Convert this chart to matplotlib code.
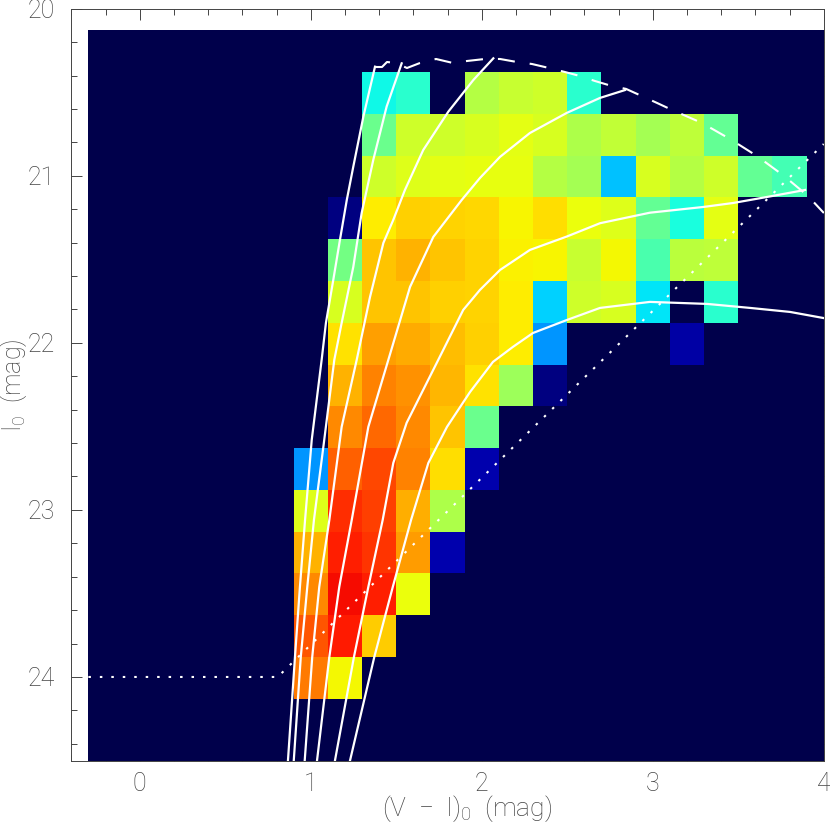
import matplotlib
matplotlib.use('Agg')
import matplotlib.pyplot as plt
from matplotlib.ticker import MultipleLocator
import numpy as np

plt.rcParams['font.family'] = ['Roboto', 'DejaVu Sans']
plt.rcParams['font.weight'] = 'light'
plt.rcParams['mathtext.default'] = 'regular'

# Hess diagram cells: (colour of first filled column, values), one per 0.25 mag row
# -1 = empty bin
CELL_ROWS = [
    (1.3, [.37, .40, -1, .57, .59, .60, .40]),
    (1.3, [.48, .60, .60, .61, .625, .61, .56, .585, .55, .58, .47]),
    (1.3, [.60, .62, .625, .63, .63, .57, .55, .316, .61, .57, .60, .47, .43]),
    (1.1, [0, .66, .69, .685, .68, .65, .675, .635, .62, .47, .38, .625]),
    (1.1, [.49, .70, .72, .70, .685, .655, .65, .59, .645, .44, .575, .58]),
    (1.1, [.61, .70, .70, .69, .685, .66, .33, .60, .61, .35, -1, .40]),
    (1.1, [.67, .74, .73, .71, .69, .66, .27, -1, -1, -1, .035]),
    (1.1, [.72, .77, .755, .715, .67, .54, 0]),
    (1.1, [.765, .80, .765, .70, .48]),
    (0.9, [.27, .805, .835, .77, .675, .04]),
    (0.9, [.62, .86, .84, .725, .56]),
    (0.9, [.72, .875, .855, .745, .04]),
    (0.9, [.765, .895, .875, .635]),
    (0.9, [.82, .88, .695]),
    (0.9, [.78, .645]),
]
FIRST_ROW_MAG = 20.38

# solid isochrones
TRACK_BASE = [24.5, 23.88, 23.461, 23.06]
track1_x = [.867, .908, .937, .967, 1.006, 1.064, 1.089, 1.132, 1.171, 1.211, 1.249, 1.308, 1.376]
track1_y = TRACK_BASE + [22.581, 22.102, 21.881, 21.624, 21.384, 21.145, 20.946, 20.646, 20.347]
track2_x = [.901, .942, .980, 1.019, 1.074, 1.138, 1.181, 1.249, 1.298, 1.366, 1.444, 1.532]
track2_y = TRACK_BASE + [22.623, 22.102, 21.881, 21.546, 21.223, 20.905, 20.586, 20.327]
track3_x = [.965, 1.009, 1.050, 1.109, 1.181, 1.269, 1.347, 1.425, 1.483, 1.551, 1.658, 1.805, 1.951, 2.068]
track3_y = TRACK_BASE + [22.503, 22.102, 21.725, 21.402, 21.264, 21.085, 20.846, 20.616, 20.427, 20.297]
track4_x = [1.037, 1.109, 1.167, 1.240, 1.337, 1.454, 1.581, 1.717, 1.883, 1.990, 2.107, 2.282, 2.497, 2.692, 2.838]
track4_y = TRACK_BASE + [22.503, 22.102, 21.665, 21.366, 21.145, 21.013, 20.887, 20.744, 20.624, 20.534, 20.487]
track5_x = [1.142, 1.253, 1.337, 1.421, 1.483, 1.561, 1.746, 1.892, 1.990, 2.107, 2.282, 2.497, 2.692, 2.984,
            3.294, 3.470, 3.668, 3.891]
track5_y = TRACK_BASE + [22.719, 22.479, 22.102, 21.803, 21.683, 21.564, 21.444, 21.364, 21.284, 21.221,
                         21.187, 21.163, 21.127, 21.085]
track6_x = [1.230, 1.372, 1.480, 1.587, 1.688, 1.797, 1.932, 2.066, 2.183, 2.300, 2.499, 2.692, 2.984, 3.318,
            3.569, 3.803, 3.996]
track6_y = TRACK_BASE + [22.719, 22.503, 22.294, 22.114, 22.024, 21.941, 21.863, 21.791, 21.755, 21.767,
                         21.791, 21.815, 21.851]
TRACKS = [(track1_x, track1_y), (track2_x, track2_y), (track3_x, track3_y),
          (track4_x, track4_y), (track5_x, track5_y), (track6_x, track6_y)]

# dashed tip envelope
tip_x = [1.376, 1.417, 1.446, 1.499, 1.563, 1.639, 1.733, 1.832, 1.914, 2.019, 2.107, 2.206, 2.294, 2.394,
         2.487, 2.575, 2.663, 2.762, 2.844, 3.025, 3.113, 3.288, 3.452, 3.610, 3.768, 3.908, 4.001]
tip_y = [20.349, 20.349, 20.319, 20.325, 20.355, 20.325, 20.301, 20.325, 20.313, 20.301, 20.301, 20.319, 20.331, 20.355,
         20.379, 20.403, 20.433, 20.463, 20.48, 20.564, 20.606, 20.684, 20.78, 20.882, 21.001, 21.121, 21.223]

# dotted completeness limit
limit_x = [-0.3, 0.807, 4.0]
limit_y = [24.0, 24.0, 20.81]

x_edges = np.arange(-0.3, 4.15, 0.2)
y_edges = np.arange(20.13, 24.7, 0.25)
grid = np.full((len(y_edges) - 1, len(x_edges) - 1), -1.0)
row0 = int(round((FIRST_ROW_MAG - y_edges[0]) / 0.25))
for r, (start, vals) in enumerate(CELL_ROWS):
    c0 = int(round((start - x_edges[0]) / 0.2))
    grid[row0 + r, c0:c0 + len(vals)] = vals

fig = plt.figure(figsize=(8.30, 8.27), dpi=100)
ax = fig.add_axes([71.3 / 830, 1 - 760.5 / 827, (823.7 - 71.3) / 830, (760.5 - 8.7) / 827])

cmap = plt.get_cmap('jet').with_extremes(under='#00004b')
ax.pcolormesh(x_edges, y_edges, grid, cmap=cmap, vmin=0, vmax=1, zorder=3)

for tx, ty in TRACKS:
    ax.plot(tx, ty, color='white', lw=1.6, zorder=4)
ax.plot(tip_x, tip_y, color='white', lw=1.5, zorder=4, dashes=(8.2, 7.2), dash_capstyle='butt')
ax.plot(limit_x, limit_y, color='white', lw=1.5, zorder=4, dashes=(1.2, 4.3), dash_capstyle='butt')

ax.set_xlim(-0.4, 4)
ax.set_ylim(24.5, 20)
ax.xaxis.set_major_locator(MultipleLocator(1))
ax.xaxis.set_minor_locator(MultipleLocator(0.2))
ax.yaxis.set_major_locator(MultipleLocator(1))
ax.yaxis.set_minor_locator(MultipleLocator(0.2))
ax.tick_params(which='major', direction='in', length=8, width=0.7, color='#444444',
               top=True, right=True, labelsize=18, labelcolor='#444444')
ax.tick_params(which='minor', direction='in', length=4.3, width=0.7, color='#444444', top=True, right=True)
ax.tick_params(axis='x', which='major', pad=8)
ax.tick_params(axis='y', which='major', pad=12)
for s in ax.spines.values():
    s.set_linewidth(0.7)
    s.set_color('#444444')

fig.text(467 / 830, 1 - 809 / 827, '(V  −  I)$_0$  (mag)', fontsize=19, color='#444444', ha='center', va='center')
fig.text(14 / 830, 1 - 385 / 827, 'I$_0$  (mag)', fontsize=18, color='#444444', ha='center', va='center', rotation=90)

fig.savefig('out.png', dpi=100, facecolor='white')
